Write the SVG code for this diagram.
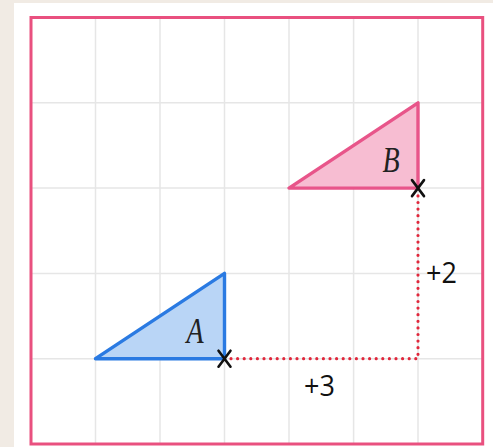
<svg xmlns="http://www.w3.org/2000/svg" width="493" height="447" viewBox="0 0 493 447">
<style>
.grid{stroke:#e6e6e6;stroke-width:1.5;fill:none}
.frame{fill:none;stroke:#e9507f;stroke-width:3}
.triA{fill:#b9d5f6;stroke:#2a7ae2;stroke-width:3.4;stroke-linejoin:round}
.triB{fill:#f7bdd2;stroke:#e8558a;stroke-width:3.4;stroke-linejoin:round}
.lbl{font-family:"Liberation Serif",serif;font-style:italic;font-size:28px;fill:#222}
.num{font-family:"Open Sans","Liberation Sans",sans-serif;font-size:27px;font-weight:500;fill:#111}
.cross{stroke:#111;stroke-width:2.6;stroke-linecap:round}
.dot{fill:none;stroke:#e0283c;stroke-width:3.2;stroke-linecap:round;stroke-dasharray:0 6.6}
</style>
<rect width="493" height="447" fill="#f1ebe4"/>
<rect x="14" y="3" width="479" height="444" fill="#ffffff"/>
<g id="grid">
<path class="grid" d="M95.5 17.5V444M160 17.5V444M224.5 17.5V444M289 17.5V444M353.6 17.5V444M418 17.5V444M31 102.8H482.7M31 188.1H482.7M31 273.4H482.7M31 358.7H482.7"/>
</g>
<rect class="frame" x="31" y="17.5" width="451.7" height="426.5"/>
<g id="connectors">
<path class="dot" d="M231 358.7H418V195"/>
</g>
<g id="triangleA">
<polygon class="triA" points="95.5,358.7 224.5,273.4 224.5,358.7"/>
<text class="lbl" transform="translate(195,343) scale(1,1.3)" text-anchor="middle">A</text>
</g>
<g id="triangleB">
<polygon class="triB" points="289,188.1 418,102.8 418,188.1"/>
<text class="lbl" transform="translate(391,171.5) scale(1,1.3)" text-anchor="middle">B</text>
</g>
<g id="markA">
<path class="cross" d="M218.5 350.7L230.5 366.7M230.5 350.7L218.5 366.7"/>
</g>
<g id="markB">
<path class="cross" d="M412 180.1L424 196.1M424 180.1L412 196.1"/>
</g>
<g id="label3">
<text class="num" transform="translate(304,396) scale(1,1.1)">+3</text>
</g>
<g id="label2">
<text class="num" transform="translate(426,282.5) scale(1,1.1)">+2</text>
</g>
</svg>
